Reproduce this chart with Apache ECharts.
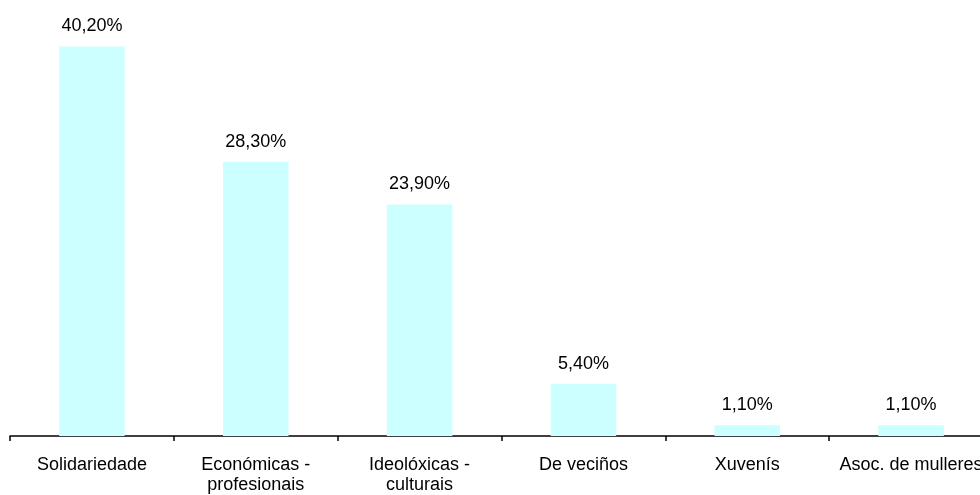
<!DOCTYPE html>
<html>
<head>
<meta charset="utf-8">
<script src="https://cdn.jsdelivr.net/npm/echarts@6/dist/echarts.min.js"></script>
<style>
  html, body { margin: 0; padding: 0; background: #fff; overflow: hidden; }
  /* o gráfico orixinal sae polo bordo dereito */
  #chart { width: 993px; height: 495px; }
</style>
</head>
<body>
<div id="chart"></div>
<script>
// categorías e porcentaxes
const categories = [
  "Solidariedade",
  "Económicas -\nprofesionais",
  "Ideolóxicas -\nculturais",
  "De veciños",
  "Xuvenís",
  "Asoc. de mulleres"
];
const values = [40.2, 28.3, 23.9, 5.4, 1.1, 1.1];

const chart = echarts.init(document.getElementById("chart"));
chart.setOption({
  animation: false,
  grid: { left: 10, right: 0, top: 0, bottom: 59, containLabel: false },
  xAxis: {
    type: "category",
    data: categories,
    axisLine: { lineStyle: { color: "#000", width: 1.5 } },
    axisTick: { show: true, length: 5, inside: false, lineStyle: { color: "#000", width: 1.5 } },
    axisLabel: {
      interval: 0,
      margin: 19,
      color: "#000",
      fontFamily: "Liberation Sans, Arial, sans-serif",
      fontSize: 18,
      lineHeight: 20
    }
  },
  yAxis: {
    type: "value",
    min: 0,
    max: 45,
    show: false,
    splitLine: { show: false }
  },
  series: [
    {
      type: "bar",
      data: values,
      barWidth: "40%",
      itemStyle: { color: "#ccffff" },
      label: {
        show: true,
        position: "top",
        distance: 11,
        color: "#000",
        fontFamily: "Liberation Sans, Arial, sans-serif",
        fontSize: 18,
        formatter: (p) => p.value.toFixed(2).replace(".", ",") + "%"
      }
    }
  ]
});
</script>
</body>
</html>
